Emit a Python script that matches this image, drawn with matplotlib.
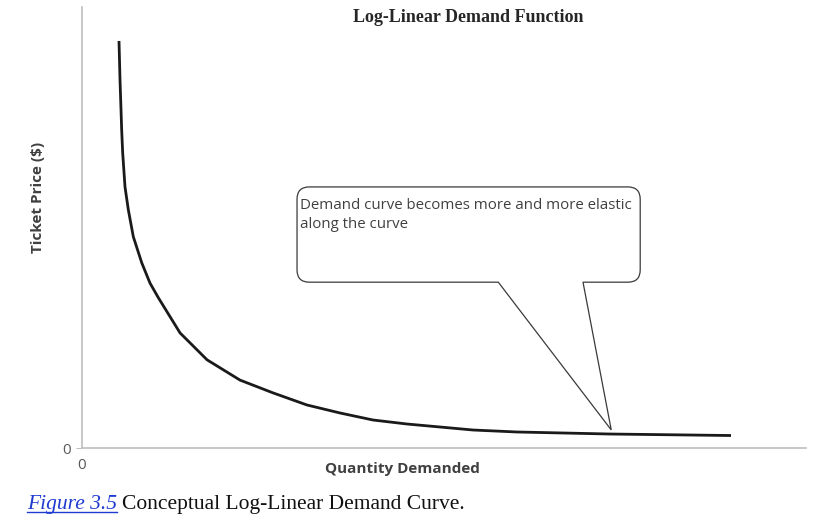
import matplotlib
matplotlib.use("Agg")
import matplotlib.pyplot as plt
from matplotlib.path import Path
from matplotlib.patches import PathPatch

# demand curve (axis units 0-100)
quantity = [5.11, 5.25, 5.39, 5.48, 5.62, 5.94, 6.40, 7.09, 8.25, 9.39,
            10.50, 13.54, 17.27, 21.82, 26.38, 31.08, 35.64, 40.19, 44.89,
            49.45, 54.01, 60.08, 72.93, 89.64]
price = [92.3, 83.5, 76.6, 72.1, 66.9, 59.2, 54.0, 47.9, 42.0, 37.4,
         34.2, 26.1, 20.0, 15.4, 12.5, 9.75, 7.94, 6.35, 5.44,
         4.76, 4.08, 3.63, 3.17, 2.83]

title = "Log-Linear Demand Function"
xlabel = "Quantity Demanded"
ylabel = "Ticket Price ($)"
note = "Demand curve becomes more and more elastic\nalong the curve"

fig = plt.figure(figsize=(8.16, 5.28), dpi=100)
ax = fig.add_axes([82 / 816, 80 / 528, 724 / 816, 441 / 528])

ax.plot(quantity, price, color="#1a1a1a", lw=2.0, solid_capstyle="butt",
        solid_joinstyle="round")
ax.set_xlim(0, 100)
ax.set_ylim(0, 100)

for s in ["top", "right"]:
    ax.spines[s].set_visible(False)
for s in ["left", "bottom"]:
    ax.spines[s].set_color("#bfbfbf")
    ax.spines[s].set_linewidth(1.2)

ax.set_xticks([0])
ax.set_yticks([0])
ax.tick_params(axis="y", length=4, color="#bfbfbf", labelsize=11,
               labelcolor="#595959", pad=4)
ax.tick_params(axis="x", length=0, labelsize=11, labelcolor="#595959", pad=7)
for lab in ax.get_xticklabels() + ax.get_yticklabels():
    lab.set_family("Open Sans")

# callout box with pointer
x0, x1, y0, y1 = 29.7, 77.1, 37.6, 59.2
rx, ry = 1.7, 2.8
b0, b1 = 57.5, 69.2
tip = (73.1, 4.1)
verts = [
    (x0 + rx, y1), (x1 - rx, y1), (x1, y1), (x1, y1 - ry),
    (x1, y0 + ry), (x1, y0), (x1 - rx, y0),
    (b1, y0), tip, (b0, y0),
    (x0 + rx, y0), (x0, y0), (x0, y0 + ry),
    (x0, y1 - ry), (x0, y1), (x0 + rx, y1),
]
codes = [Path.MOVETO, Path.LINETO, Path.CURVE3, Path.CURVE3,
         Path.LINETO, Path.CURVE3, Path.CURVE3,
         Path.LINETO, Path.LINETO, Path.LINETO,
         Path.LINETO, Path.CURVE3, Path.CURVE3,
         Path.LINETO, Path.CURVE3, Path.CURVE3]
ax.add_patch(PathPatch(Path(verts, codes), facecolor="white",
                       edgecolor="#3a3a3a", lw=0.9, zorder=3))
ax.text(x0 + 0.35, y1 - 2.4, note, family="Open Sans", fontsize=10.8,
        color="#404040", va="top", ha="left", linespacing=1.45, zorder=4)

fig.text(468 / 816, 1 - 17 / 528, title, family="Liberation Serif",
         fontweight="bold", fontsize=13, ha="center", va="center",
         color="#262626")
fig.text(402 / 816, 1 - 469 / 528, xlabel, family="Open Sans",
         fontweight="bold", fontsize=11, ha="center", va="center",
         color="#404040")
fig.text(38 / 816, 1 - 197 / 528, ylabel, family="Open Sans",
         fontweight="bold", fontsize=11, ha="center", va="center",
         rotation=90, color="#404040")

# caption
cap1 = fig.text(27 / 816, 1 - 505 / 528, "Figure 3.5", family="Liberation Serif",
                style="italic", fontsize=15.5, color="#1f3bd1", va="center")
fig.canvas.draw()
r = fig.canvas.get_renderer()
bb = cap1.get_window_extent(r).transformed(fig.transFigure.inverted())
fig.add_artist(plt.Line2D([bb.x0, bb.x1], [bb.y0 + 0.004, bb.y0 + 0.004],
                          color="#1f3bd1", lw=1.0, transform=fig.transFigure))
fig.text(bb.x1 + 0.006, 1 - 505 / 528, "Conceptual Log-Linear Demand Curve.",
         family="Liberation Serif", fontsize=15.5, color="#111111", va="center")

fig.savefig("out.png", dpi=100)
